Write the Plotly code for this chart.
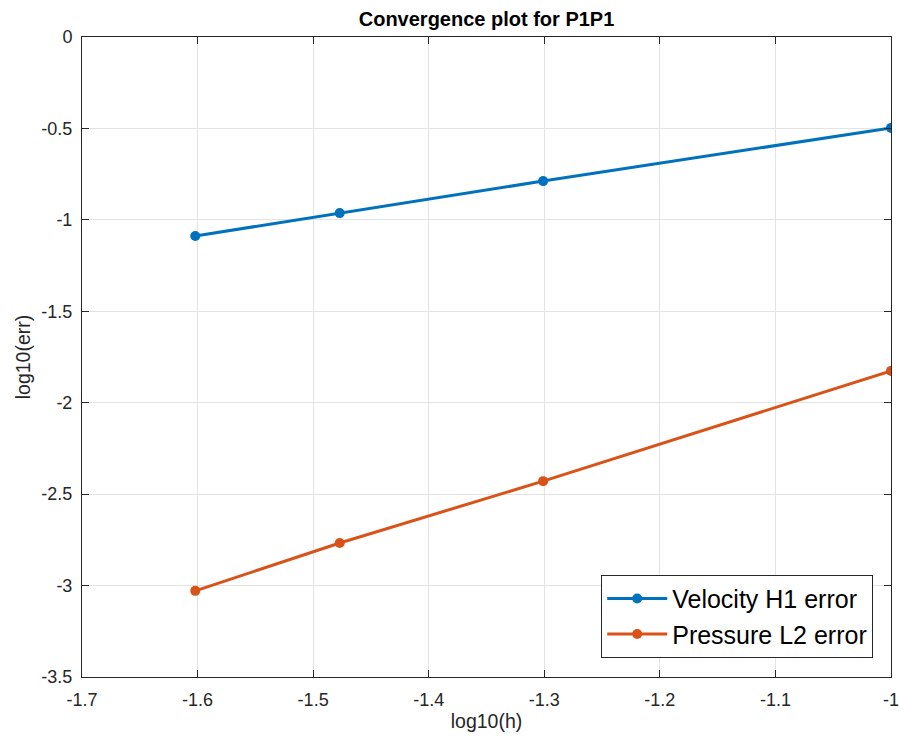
import plotly.graph_objects as go

log_h = [-1.602, -1.477, -1.301, -1.0]
vel_err = [-1.088, -0.963, -0.788, -0.497]
pres_err = [-3.029, -2.767, -2.429, -1.826]
series_names = ["Velocity H1 error", "Pressure L2 error"]
x_ticks = [-1.7, -1.6, -1.5, -1.4, -1.3, -1.2, -1.1, -1.0]
x_tick_text = ["-1.7", "-1.6", "-1.5", "-1.4", "-1.3", "-1.2", "-1.1", "-1"]
y_ticks = [0, -0.5, -1, -1.5, -2, -2.5, -3, -3.5]
y_tick_text = ["0", "-0.5", "-1", "-1.5", "-2", "-2.5", "-3", "-3.5"]

font = "Liberation Sans, Arial, sans-serif"
fig = go.Figure()
fig.add_trace(go.Scatter(x=log_h, y=vel_err, mode="lines+markers", name=series_names[0],
                         line=dict(color="#0072BD", width=3), marker=dict(size=10, color="#0072BD")))
fig.add_trace(go.Scatter(x=log_h, y=pres_err, mode="lines+markers", name=series_names[1],
                         line=dict(color="#D95319", width=3), marker=dict(size=10, color="#D95319")))

axis_common = dict(showgrid=True, gridcolor="#e3e3e3", gridwidth=1, showline=True,
                   linecolor="#262626", linewidth=1, mirror="ticks", ticks="inside",
                   ticklen=7, tickcolor="#262626", zeroline=False, automargin=False,
                   tickfont=dict(family=font, size=18, color="#262626"))
fig.update_xaxes(range=[-1.7, -1.0], tickvals=x_ticks, ticktext=x_tick_text, ticklabelstandoff=6,
                 title=dict(text="log10(h)", font=dict(family=font, size=19.5, color="#262626"), standoff=5),
                 **axis_common)
fig.update_yaxes(range=[-3.5, 0], tickvals=y_ticks, ticktext=y_tick_text, ticklabelstandoff=5,
                 title=dict(text="log10(err)", font=dict(family=font, size=19.5, color="#262626"), standoff=5),
                 **axis_common)
fig.update_layout(
    width=900, height=740,
    margin=dict(l=82, r=9, t=37, b=63),
    paper_bgcolor="white", plot_bgcolor="white",
    title=dict(text="<b>Convergence plot for P1P1</b>", x=0.5406, xanchor="center", y=0.974, yanchor="middle",
               font=dict(family=font, size=20, color="black")),
    legend=dict(x=0.978, y=0.03, xanchor="right", yanchor="bottom", bgcolor="white",
                bordercolor="#262626", borderwidth=1, itemwidth=60,
                font=dict(family=font, size=25, color="black"), tracegroupgap=0),
    showlegend=True,
)
fig.write_html("out.html")
